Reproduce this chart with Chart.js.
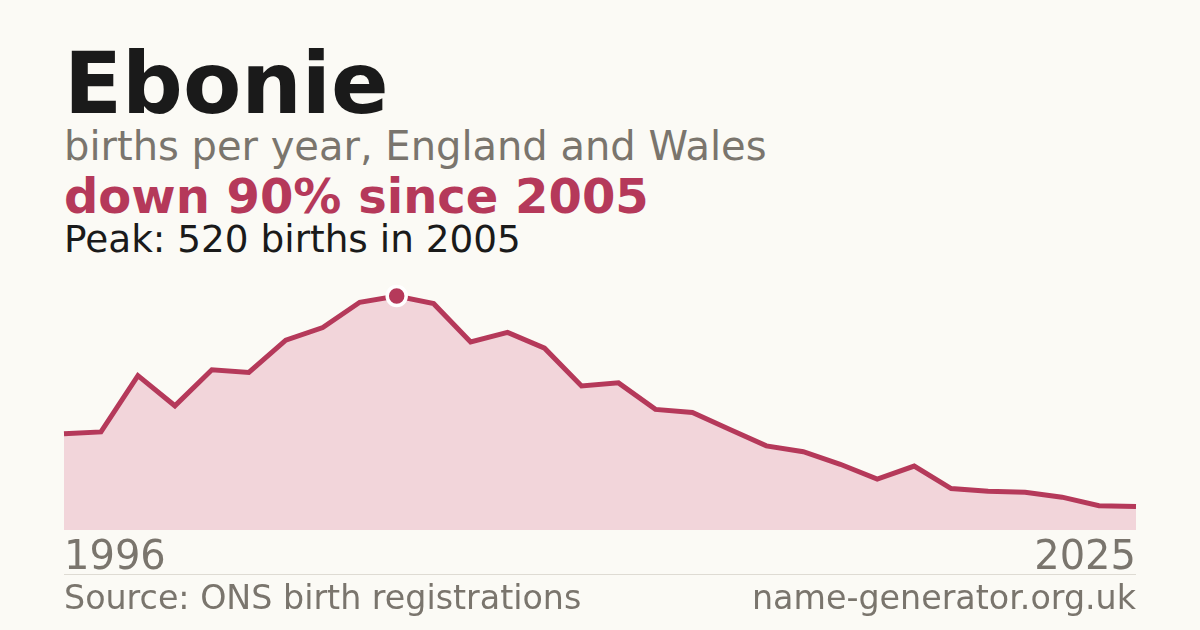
<!DOCTYPE html>
<html>
<head>
<meta charset="utf-8">
<script src="https://cdn.jsdelivr.net/npm/chart.js@4/dist/chart.umd.min.js"></script>
<style>
  html, body { margin: 0; padding: 0; background: #fbfaf5; }
  body { width: 1200px; height: 630px; position: relative; overflow: hidden; font-family: "DejaVu Sans", sans-serif; }
  .t { position: absolute; left: 64px; line-height: 1; white-space: nowrap; }
  #title { top: 41px; font-size: 85px; font-weight: bold; color: #1a1a1a; }
  #sub { top: 126px; font-size: 40px; color: #7a756d; }
  #trend { top: 172px; font-size: 48px; font-weight: bold; color: #b5395a; }
  #peak { top: 221px; font-size: 37.4px; color: #1a1a1a; }
  #rule { position: absolute; left: 64px; width: 1072px; top: 574px; height: 1px; background: #dedbd3; }
  #src { top: 581px; font-size: 33.3px; color: #7a756d; }
  #site { top: 581px; left: auto; right: 64px; font-size: 33.3px; color: #7a756d; }
  #wrap { position: absolute; left: 0; top: 0; width: 1200px; height: 630px; }
</style>
</head>
<body>
<div class="t" id="title">Ebonie</div>
<div class="t" id="sub">births per year, England and Wales</div>
<div class="t" id="trend">down 90% since 2005</div>
<div class="t" id="peak">Peak: 520 births in 2005</div>
<div id="wrap"><canvas id="c" width="1200" height="630"></canvas></div>
<div id="rule"></div>
<div class="t" id="src">Source: ONS birth registrations</div>
<div class="t" id="site">name-generator.org.uk</div>
<script>
const years = [1996,1997,1998,1999,2000,2001,2002,2003,2004,2005,2006,2007,2008,2009,2010,
               2011,2012,2013,2014,2015,2016,2017,2018,2019,2020,2021,2022,2023,2024,2025];
const births = [214,218,343,276,356,350,422,450,506,520,503,418,439,404,320,
                327,268,261,224,187,174,146,113,142,92,86,84,73,54,52];
const tickYears = [1996, 2025];
const peakYear = 2005;

const RED = '#b5395a';
const peakIndex = years.indexOf(peakYear);

new Chart(document.getElementById('c'), {
  type: 'line',
  data: {
    labels: years.map(String),
    datasets: [{
      data: births,
      borderColor: RED,
      borderWidth: 5,
      backgroundColor: '#f2d5da',
      fill: 'origin',
      tension: 0,
      borderJoinStyle: 'miter',
      pointRadius: births.map((v, i) => i === peakIndex ? 9.5 : 0),
      pointHoverRadius: 0,
      pointBackgroundColor: RED,
      pointBorderColor: '#ffffff',
      pointBorderWidth: 3.5,
      clip: false
    }]
  },
  options: {
    responsive: false,
    animation: false,
    events: [],
    layout: { padding: { left: 64, right: 64, top: 260, bottom: 0 } },
    plugins: { legend: { display: false }, tooltip: { enabled: false } },
    scales: {
      x: {
        offset: false,
        grid: { display: false, drawTicks: false },
        border: { display: false },
        afterFit: (s) => { s.height = 100; },
        ticks: {
          autoSkip: false,
          maxRotation: 0,
          align: 'inner',
          padding: 5,
          color: '#7a756d',
          font: { family: 'DejaVu Sans', size: 40 },
          callback: function(value, index) {
            const y = years[index];
            return tickYears.includes(y) ? String(y) : '';
          }
        }
      },
      y: {
        display: false,
        min: 0,
        max: 600
      }
    }
  }
});
</script>
</body>
</html>
